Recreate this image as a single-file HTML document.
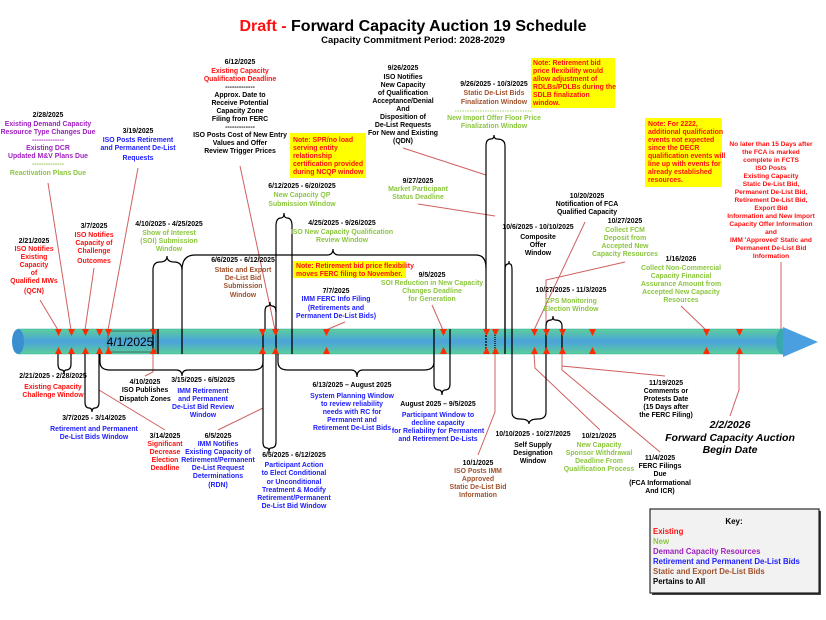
<!DOCTYPE html>
<html><head><meta charset="utf-8"><style>
body{margin:0;background:#fff}
svg{display:block}
text{font-family:"Liberation Sans",Arial,sans-serif;font-weight:bold;font-size:6.9px;text-anchor:middle}
.k{fill:#000}.r{fill:#ff1010}.g{fill:#8cc63f}.p{fill:#a020c0}.b{fill:#2020ff}.o{fill:#a0522d}
.l{text-anchor:start}
.c{stroke:#d06060;stroke-width:1;fill:none}
.br{stroke:#000;stroke-width:1.2;fill:none}
</style></head><body>
<svg width="826" height="620" viewBox="0 0 826 620" xmlns="http://www.w3.org/2000/svg">
<defs>
<linearGradient id="bar" x1="0" y1="0" x2="0" y2="1">
<stop offset="0" stop-color="#5ccf9a"/><stop offset="0.5" stop-color="#4aa2dc"/><stop offset="1" stop-color="#5ccf9a"/>
</linearGradient>
</defs>
<text x="413" y="31" style="font-size:16px" class="k"><tspan class="r">Draft - </tspan>Forward Capacity Auction 19 Schedule</text>
<text x="413" y="43" style="font-size:9.5px" class="k">Capacity Commitment Period: 2028-2029</text>

<path class="c" d="M48,183 L71,330 M138,168 L108,330 M240,166 L275,330 M40,300 L58,330 M94,268 L85,330 M403,148 L486,175 M418,204 L495,216 M432,305 L443,330 M345,322 L326,330 M585,222 L534,330 M625,262 L546,280 L546,330 M681,306 L706,330 M781,262 L781,330 M562,354 L562,366 L665,376 M739,354 L739,390 L730,416 M534,354 L535,368 L600,430 M562,354 L562,370 L660,452 M495,354 L495,412 L478,455 M99,354 L99,390 L165,430 M153,354 L153,372 L145,376 M263,408 L218,430"/>

<rect x="18" y="329" width="766" height="25" fill="url(#bar)" stroke="#3aa" stroke-width="0.5"/>
<ellipse cx="18" cy="341.5" rx="6" ry="12.5" fill="#3a8fd0"/>
<ellipse cx="783" cy="341.5" rx="7" ry="13" fill="#3aa8b0"/>
<polygon points="783,327 818,342 783,357" fill="#4a9fe0"/>
<rect x="108" y="331" width="48" height="21" fill="none" stroke="#333" stroke-width="0.6"/>
<text x="130" y="346" style="font-size:12px;font-weight:normal" class="k">4/1/2025</text>

<g stroke="#000" stroke-width="1.3">
<path d="M153,329V354M158,329V354M182,329V354M263,329V354M276,329V354M292,329V354M434,329V354M450,329V354M505,329V354M512,329V354M546,329V354M562,329V354"/>
<path d="M486,329V354" stroke-dasharray="2,1"/>
<path d="M495,329V354" stroke-dasharray="1,1"/>
</g>

<g fill="#ff2a00">
<path d="M55,329h7l-3.5,7zM55,354h7l-3.5,-7zM68,329h7l-3.5,7zM68,354h7l-3.5,-7zM82,329h7l-3.5,7zM82,354h7l-3.5,-7zM96,329h7l-3.5,7zM96,354h7l-3.5,-7zM105,329h7l-3.5,7zM105,354h7l-3.5,-7zM150,329h7l-3.5,7zM150,354h7l-3.5,-7zM259,329h7l-3.5,7zM259,354h7l-3.5,-7zM272,329h7l-3.5,7zM272,354h7l-3.5,-7zM323,329h7l-3.5,7zM323,354h7l-3.5,-7zM440,329h7l-3.5,7zM440,354h7l-3.5,-7zM483,329h7l-3.5,7zM483,354h7l-3.5,-7zM492,329h7l-3.5,7zM492,354h7l-3.5,-7zM531,329h7l-3.5,7zM531,354h7l-3.5,-7zM543,329h7l-3.5,7zM543,354h7l-3.5,-7zM559,329h7l-3.5,7zM559,354h7l-3.5,-7zM589,329h7l-3.5,7zM589,354h7l-3.5,-7zM703,329h7l-3.5,7zM703,354h7l-3.5,-7zM736,329h7l-3.5,7zM736,354h7l-3.5,-7z"/>
</g>

<g class="br">
<path d="M153,329V270Q153,262 160,262Q167,262 167,256Q167,262 174,262Q182,262 182,270V329"/>
<path d="M182,270Q182,255 195,255H327Q333,255 333,249Q333,255 339,255H476Q486,255 486,268V329"/>
<path d="M276,329V226Q276,218 281,218Q284,218 284,213Q284,218 287,218Q292,218 292,226V329"/>
<path d="M265,329V312Q265,306 268,306Q270,306 270,302Q270,306 272,306Q276,306 276,312"/>
<path d="M486,268V146Q486,139 491,139Q494,139 494,135Q494,139 497,139Q505,139 505,146V329"/>
<path d="M505,329V270Q505,264 508,264Q509,264 509,261Q509,264 510,264Q512,264 512,270V329"/>
<path d="M546,329V326Q546,320 551,320Q553,320 553,316Q553,320 555,320Q562,320 562,326V329"/>
<path d="M58,354V364Q58,370 62,370Q64,370 64,374Q64,370 66,370Q71,370 71,364V354"/>
<path d="M85,354V402Q85,408 89,408Q92,408 92,412Q92,408 95,408Q99,408 99,402V354"/>
<path d="M100,354V362Q100,370 110,370H176Q182,370 182,376Q182,370 188,370H253Q263,370 263,362V354"/>
<path d="M263,354V442Q263,448 267,448Q269,448 269,452Q269,448 271,448Q276,448 276,442V354"/>
<path d="M278,354V362Q278,370 288,370H351Q357,370 357,377Q357,370 363,370H424Q434,370 434,362V354"/>
<path d="M434,354V384Q434,390 439,390Q442,390 442,395Q442,390 445,390Q450,390 450,384V354"/>
<path d="M512,354V412Q512,419 520,419Q529,419 529,424Q529,419 538,419Q546,419 546,412V354"/>
</g>

<rect x="290" y="133" width="76" height="45" fill="#ffff00"/>
<text class="r l"><tspan x="293" y="142">Note: SPR/no load</tspan><tspan x="293" y="150">serving entity</tspan><tspan x="293" y="158">relationship</tspan><tspan x="293" y="166">certification provided</tspan><tspan x="293" y="174">during NCQP window</tspan></text>
<rect x="293" y="261" width="113" height="17" fill="#ffff00"/>
<text class="r l"><tspan x="296" y="268">Note: Retirement bid price flexibility</tspan><tspan x="296" y="276">moves FERC filing to November.</tspan></text>
<rect x="531" y="58" width="84" height="50" fill="#ffff00"/>
<text class="r l"><tspan x="533" y="65">Note: Retirement bid</tspan><tspan x="533" y="73">price flexibility would</tspan><tspan x="533" y="81">allow adjustment of</tspan><tspan x="533" y="89">RDLBs/PDLBs during the</tspan><tspan x="533" y="97">SDLB finalization</tspan><tspan x="533" y="105">window.</tspan></text>
<rect x="645" y="118" width="77" height="69" fill="#ffff00"/>
<text class="r l"><tspan x="648" y="126">Note: For 2222,</tspan><tspan x="648" y="134">additional qualification</tspan><tspan x="648" y="142">events not expected</tspan><tspan x="648" y="150">since the DECR</tspan><tspan x="648" y="158">qualification events will</tspan><tspan x="648" y="166">line up with events for</tspan><tspan x="648" y="174">already established</tspan><tspan x="648" y="182">resources.</tspan></text>

<text class="k" x="48" y="117">2/28/2025</text>
<text class="p"><tspan x="48" y="126">Existing Demand Capacity</tspan><tspan x="48" y="134">Resource Type Changes Due</tspan><tspan x="48" y="142">--------------</tspan><tspan x="48" y="150">Existing DCR</tspan><tspan x="48" y="158">Updated M&amp;V Plans Due</tspan></text>
<text class="g"><tspan x="48" y="166">--------------</tspan><tspan x="48" y="175">Reactivation Plans Due</tspan></text>

<text class="k" x="138" y="133">3/19/2025</text>
<text class="b"><tspan x="138" y="142">ISO Posts Retirement</tspan><tspan x="138" y="150">and Permanent De-List</tspan><tspan x="138" y="160">Requests</tspan></text>

<text class="k" x="240" y="64">6/12/2025</text>
<text class="r"><tspan x="240" y="73">Existing Capacity</tspan><tspan x="240" y="81">Qualification Deadline</tspan></text>
<text class="k"><tspan x="240" y="89">-------------</tspan><tspan x="240" y="97">Approx. Date to</tspan><tspan x="240" y="105">Receive Potential</tspan><tspan x="240" y="113">Capacity Zone</tspan><tspan x="240" y="121">Filing from FERC</tspan><tspan x="240" y="129">-------------</tspan><tspan x="240" y="137">ISO Posts Cost of New Entry</tspan><tspan x="240" y="145">Values and Offer</tspan><tspan x="240" y="153">Review Trigger Prices</tspan></text>

<text class="k" x="34" y="243">2/21/2025</text>
<text class="r"><tspan x="34" y="251">ISO Notifies</tspan><tspan x="34" y="259">Existing</tspan><tspan x="34" y="267">Capacity</tspan><tspan x="34" y="275">of</tspan><tspan x="34" y="283">Qualified MWs</tspan><tspan x="34" y="293">(QCN)</tspan></text>

<text class="k" x="94" y="228">3/7/2025</text>
<text class="r"><tspan x="94" y="237">ISO Notifies</tspan><tspan x="94" y="245">Capacity of</tspan><tspan x="94" y="253">Challenge</tspan><tspan x="94" y="263">Outcomes</tspan></text>

<text class="k" x="169" y="226">4/10/2025 - 4/25/2025</text>
<text class="g"><tspan x="169" y="235">Show of Interest</tspan><tspan x="169" y="243">(SOI) Submission</tspan><tspan x="169" y="251">Window</tspan></text>

<text class="k" x="243" y="262">6/6/2025 - 6/12/2025</text>
<text class="o"><tspan x="243" y="272">Static and Export</tspan><tspan x="243" y="280">De-List Bid</tspan><tspan x="243" y="288">Submission</tspan><tspan x="243" y="297">Window</tspan></text>

<text class="k" x="302" y="188">6/12/2025 - 6/20/2025</text>
<text class="g"><tspan x="302" y="197">New Capacity QP</tspan><tspan x="302" y="206">Submission Window</tspan></text>

<text class="k" x="342" y="225">4/25/2025 - 9/26/2025</text>
<text class="g"><tspan x="342" y="234">ISO New Capacity Qualification</tspan><tspan x="342" y="242">Review Window</tspan></text>

<text class="k" x="336" y="293">7/7/2025</text>
<text class="b"><tspan x="336" y="301">IMM FERC Info Filing</tspan><tspan x="336" y="310">(Retirements and</tspan><tspan x="336" y="318">Permanent De-List Bids)</tspan></text>

<text class="k"><tspan x="403" y="70">9/26/2025</tspan><tspan x="403" y="79">ISO Notifies</tspan><tspan x="403" y="87">New Capacity</tspan><tspan x="403" y="95">of Qualification</tspan><tspan x="403" y="103">Acceptance/Denial</tspan><tspan x="403" y="111">And</tspan><tspan x="403" y="119">Disposition of</tspan><tspan x="403" y="127">De-List Requests</tspan><tspan x="403" y="135">For New and Existing</tspan><tspan x="403" y="143">(QDN)</tspan></text>

<text class="k" x="494" y="86">9/26/2025 - 10/3/2025</text>
<text class="o"><tspan x="494" y="95">Static De-List Bids</tspan><tspan x="494" y="104">Finalization Window</tspan></text>
<line x1="455" y1="111" x2="533" y2="111" stroke="#8cc63f" stroke-width="0.8" stroke-dasharray="1.5,1"/>
<text class="g"><tspan x="494" y="120">New Import Offer Floor Price</tspan><tspan x="494" y="128">Finalization Window</tspan></text>

<text class="k" x="418" y="183">9/27/2025</text>
<text class="g"><tspan x="418" y="191">Market Participant</tspan><tspan x="418" y="199">Status Deadline</tspan></text>

<text class="k" x="432" y="277">9/5/2025</text>
<text class="g"><tspan x="432" y="285">SOI Reduction in New Capacity</tspan><tspan x="432" y="293">Changes Deadline</tspan><tspan x="432" y="301">for Generation</tspan></text>

<text class="k"><tspan x="538" y="229">10/6/2025 - 10/10/2025</tspan><tspan x="538" y="239">Composite</tspan><tspan x="538" y="247">Offer</tspan><tspan x="538" y="255">Window</tspan></text>

<text class="k"><tspan x="587" y="198">10/20/2025</tspan><tspan x="587" y="206">Notification of FCA</tspan><tspan x="587" y="214">Qualified Capacity</tspan></text>

<text class="k" x="625" y="223">10/27/2025</text>
<text class="g"><tspan x="625" y="232">Collect FCM</tspan><tspan x="625" y="240">Deposit from</tspan><tspan x="625" y="248">Accepted New</tspan><tspan x="625" y="256">Capacity Resources</tspan></text>

<text class="k" x="681" y="261">1/16/2026</text>
<text class="g"><tspan x="681" y="270">Collect Non-Commercial</tspan><tspan x="681" y="278">Capacity Financial</tspan><tspan x="681" y="286">Assurance Amount from</tspan><tspan x="681" y="294">Accepted New Capacity</tspan><tspan x="681" y="302">Resources</tspan></text>

<text class="k" x="571" y="292">10/27/2025 - 11/3/2025</text>
<text class="g"><tspan x="571" y="303">CPS Monitoring</tspan><tspan x="571" y="311">Election Window</tspan></text>

<text class="r" style="font-size:6.6px"><tspan x="771" y="146">No later than 15 Days after</tspan><tspan x="771" y="154">the FCA is marked</tspan><tspan x="771" y="162">complete in FCTS</tspan><tspan x="771" y="170">ISO Posts</tspan><tspan x="771" y="178">Existing Capacity</tspan><tspan x="771" y="186">Static De-List Bid,</tspan><tspan x="771" y="194">Permanent De-List Bid,</tspan><tspan x="771" y="202">Retirement De-List Bid,</tspan><tspan x="771" y="210">Export Bid</tspan><tspan x="771" y="218">Information and New Import</tspan><tspan x="771" y="226">Capacity Offer Information</tspan><tspan x="771" y="234">and</tspan><tspan x="771" y="242">IMM 'Approved' Static and</tspan><tspan x="771" y="250">Permanent De-List Bid</tspan><tspan x="771" y="258">Information</tspan></text>

<text class="k" x="53" y="378">2/21/2025 - 2/28/2025</text>
<text class="r"><tspan x="53" y="389">Existing Capacity</tspan><tspan x="53" y="397">Challenge Window</tspan></text>

<text class="k"><tspan x="145" y="384">4/10/2025</tspan><tspan x="145" y="392">ISO Publishes</tspan><tspan x="145" y="401">Dispatch Zones</tspan></text>

<text class="k" x="203" y="382">3/15/2025 - 6/5/2025</text>
<text class="b"><tspan x="203" y="393">IMM Retirement</tspan><tspan x="203" y="401">and Permanent</tspan><tspan x="203" y="409">De-List Bid Review</tspan><tspan x="203" y="417">Window</tspan></text>

<text class="k" x="94" y="420">3/7/2025 - 3/14/2025</text>
<text class="b"><tspan x="94" y="431">Retirement and Permanent</tspan><tspan x="94" y="439">De-List Bids Window</tspan></text>

<text class="k" x="165" y="438">3/14/2025</text>
<text class="r"><tspan x="165" y="446">Significant</tspan><tspan x="165" y="454">Decrease</tspan><tspan x="165" y="462">Election</tspan><tspan x="165" y="470">Deadline</tspan></text>

<text class="k" x="218" y="438">6/5/2025</text>
<text class="b"><tspan x="218" y="446">IMM Notifies</tspan><tspan x="218" y="454">Existing Capacity of</tspan><tspan x="218" y="462">Retirement/Permanent</tspan><tspan x="218" y="470">De-List Request</tspan><tspan x="218" y="478">Determinations</tspan><tspan x="218" y="487">(RDN)</tspan></text>

<text class="k" x="294" y="457">6/5/2025 - 6/12/2025</text>
<text class="b"><tspan x="294" y="467">Participant Action</tspan><tspan x="294" y="475">to Elect Conditional</tspan><tspan x="294" y="484">or Unconditional</tspan><tspan x="294" y="492">Treatment &amp; Modify</tspan><tspan x="294" y="500">Retirement/Permanent</tspan><tspan x="294" y="508">De-List Bid Window</tspan></text>

<text class="k" x="352" y="387">6/13/2025 – August 2025</text>
<text class="b"><tspan x="352" y="398">System Planning Window</tspan><tspan x="352" y="406">to review reliability</tspan><tspan x="352" y="414">needs with RC for</tspan><tspan x="352" y="422">Permanent and</tspan><tspan x="352" y="430">Retirement De-List Bids</tspan></text>

<text class="k" x="438" y="406">August 2025 – 9/5/2025</text>
<text class="b"><tspan x="438" y="417">Participant Window to</tspan><tspan x="438" y="425">decline capacity</tspan><tspan x="438" y="433">for Reliability for Permanent</tspan><tspan x="438" y="441">and Retirement De-Lists</tspan></text>

<text class="k" x="478" y="465">10/1/2025</text>
<text class="o"><tspan x="478" y="473">ISO Posts IMM</tspan><tspan x="478" y="481">Approved</tspan><tspan x="478" y="489">Static De-List Bid</tspan><tspan x="478" y="497">Information</tspan></text>

<text class="k"><tspan x="533" y="436">10/10/2025 - 10/27/2025</tspan><tspan x="533" y="447">Self Supply</tspan><tspan x="533" y="455">Designation</tspan><tspan x="533" y="463">Window</tspan></text>

<text class="k" x="599" y="438">10/21/2025</text>
<text class="g"><tspan x="599" y="447">New Capacity</tspan><tspan x="599" y="455">Sponsor Withdrawal</tspan><tspan x="599" y="463">Deadline From</tspan><tspan x="599" y="471">Qualification Process</tspan></text>

<text class="k"><tspan x="660" y="460">11/4/2025</tspan><tspan x="660" y="468">FERC Filings</tspan><tspan x="660" y="476">Due</tspan><tspan x="660" y="485">(FCA Informational</tspan><tspan x="660" y="493">And ICR)</tspan></text>

<text class="k"><tspan x="666" y="385">11/19/2025</tspan><tspan x="666" y="393">Comments or</tspan><tspan x="666" y="401">Protests Date</tspan><tspan x="666" y="409">(15 Days after</tspan><tspan x="666" y="417">the FERC Filing)</tspan></text>

<text class="k" style="font-size:10.5px;font-style:italic"><tspan x="730" y="428">2/2/2026</tspan><tspan x="730" y="441">Forward Capacity Auction</tspan><tspan x="730" y="453">Begin Date</tspan></text>

<rect x="652" y="511" width="169" height="84" fill="#444"/>
<rect x="650" y="509" width="169" height="84" fill="#f2f2f2" stroke="#000" stroke-width="1"/>
<text class="k" x="734" y="524" style="font-size:8px">Key:</text>
<g style="font-size:7.8px">
<text class="r l" x="653" y="534" style="font-size:7.8px">Existing</text>
<text class="g l" x="653" y="544" style="font-size:7.8px">New</text>
<text class="p l" x="653" y="554" style="font-size:7.8px">Demand Capacity Resources</text>
<text class="b l" x="653" y="564" style="font-size:7.8px">Retirement and Permanent De-List Bids</text>
<text class="o l" x="653" y="574" style="font-size:7.8px">Static and Export De-List Bids</text>
<text class="k l" x="653" y="584" style="font-size:7.8px">Pertains to All</text>
</g>
</svg>
</body></html>
